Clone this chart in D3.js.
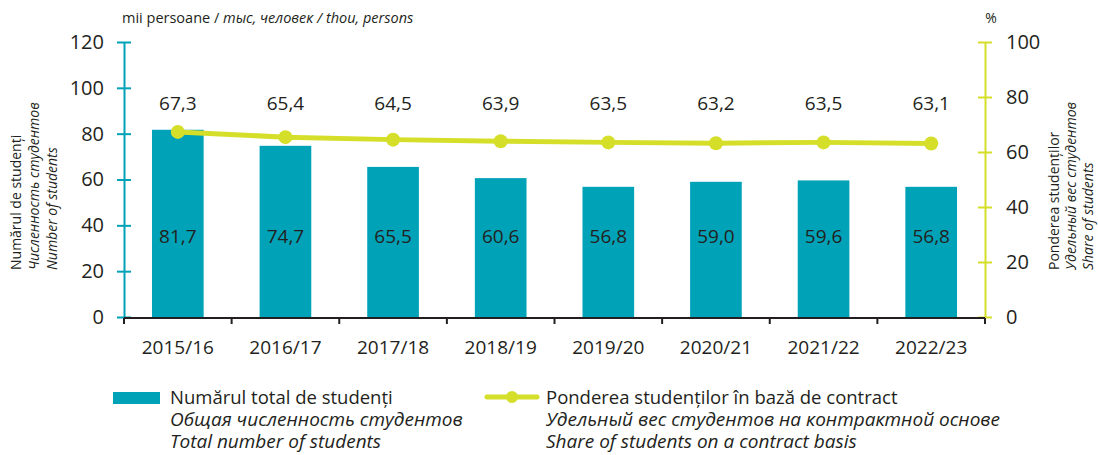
<!DOCTYPE html>
<html>
<head>
<meta charset="utf-8">
<script src="https://cdn.jsdelivr.net/npm/d3@7"></script>
<style>
  body { margin: 0; background: #fff; }
  text { font-family: "Open Sans", "Noto Sans", sans-serif; fill: #231f20; }
</style>
</head>
<body>
<div id="chart"></div>
<script>
// data
var years = ["2015/16", "2016/17", "2017/18", "2018/19", "2019/20", "2020/21", "2021/22", "2022/23"];
var students = [81.7, 74.7, 65.5, 60.6, 56.8, 59.0, 59.6, 56.8];
var contractShare = [67.3, 65.4, 64.5, 63.9, 63.5, 63.2, 63.5, 63.1];
var leftTicks = [0, 20, 40, 60, 80, 100, 120];
var rightTicks = [0, 20, 40, 60, 80, 100];

var w = 1098, h = 455;
var teal = "#00a2b7";
var lime = "#d5df2a";
var fmt = function (v) { return v.toFixed(1).replace(".", ","); };

var svg = d3.select("#chart").append("svg")
    .attr("width", w)
    .attr("height", h);

var x = d3.scaleBand().domain(years).range([124, 985]).paddingInner(0.52).paddingOuter(0.26);
var yL = d3.scaleLinear().domain([0, 120]).range([317, 42]);
var yR = d3.scaleLinear().domain([0, 100]).range([317, 42]);

// bars
svg.selectAll("rect.bar")
    .data(students)
    .enter().append("rect")
    .attr("class", "bar")
    .attr("x", function (d, i) { return x(years[i]); })
    .attr("width", x.bandwidth())
    .attr("y", function (d) { return yL(d); })
    .attr("height", function (d) { return yL(0) - yL(d); })
    .attr("fill", teal);

// bar labels
svg.selectAll("text.barlbl")
    .data(students)
    .enter().append("text")
    .attr("class", "barlbl")
    .attr("x", function (d, i) { return x(years[i]) + x.bandwidth() / 2; })
    .attr("y", 243)
    .attr("text-anchor", "middle")
    .style("font-size", "19px")
    .text(fmt);

// left axis
var left = svg.append("g")
    .attr("transform", "translate(124,0)")
    .call(d3.axisLeft(yL).tickValues(leftTicks).tickSize(0).tickPadding(20));
left.select(".domain").attr("stroke", teal).attr("stroke-width", 2);
left.selectAll(".tick text").style("font-size", "20px").attr("fill", "#231f20");
left.selectAll(".tick").append("line")
    .attr("x1", -7).attr("x2", 7)
    .attr("stroke", teal).attr("stroke-width", 2);

// right axis
var right = svg.append("g")
    .attr("transform", "translate(985,0)")
    .call(d3.axisRight(yR).tickValues(rightTicks).tickSize(0).tickPadding(21));
right.select(".domain").attr("stroke", lime).attr("stroke-width", 2);
right.selectAll(".tick text").style("font-size", "20px").attr("fill", "#231f20");
right.selectAll(".tick").append("line")
    .attr("x1", -7).attr("x2", 7)
    .attr("stroke", lime).attr("stroke-width", 2);

// x axis
var bottom = svg.append("g")
    .attr("transform", "translate(0,318)")
    .call(d3.axisBottom(x).tickSize(0).tickPadding(23));
bottom.select(".domain").remove();
bottom.append("line").attr("x1", 124).attr("x2", 985).attr("stroke", "#231f20").attr("stroke-width", 2);
bottom.selectAll(".tick text").style("font-size", "19px").attr("fill", "#231f20");
bottom.selectAll("line.sep")
    .data(d3.range(years.length + 1))
    .enter().append("line")
    .attr("class", "sep")
    .attr("x1", function (i) { return 124 + i * (861 / years.length); })
    .attr("x2", function (i) { return 124 + i * (861 / years.length); })
    .attr("y1", 0).attr("y2", 6)
    .attr("stroke", "#231f20").attr("stroke-width", 2);

// line
var cx = function (i) { return x(years[i]) + x.bandwidth() / 2; };
var line = d3.line()
    .x(function (d, i) { return cx(i); })
    .y(function (d) { return yR(d); });
svg.append("path")
    .datum(contractShare)
    .attr("d", line)
    .attr("fill", "none")
    .attr("stroke", lime)
    .attr("stroke-width", 5);
svg.selectAll("circle.pt")
    .data(contractShare)
    .enter().append("circle")
    .attr("class", "pt")
    .attr("cx", function (d, i) { return cx(i); })
    .attr("cy", function (d) { return yR(d); })
    .attr("r", 7)
    .attr("fill", lime);
svg.selectAll("text.ptlbl")
    .data(contractShare)
    .enter().append("text")
    .attr("class", "ptlbl")
    .attr("x", function (d, i) { return cx(i); })
    .attr("y", 110)
    .attr("text-anchor", "middle")
    .style("font-size", "19px")
    .text(fmt);

// unit labels
svg.append("text").attr("x", 122).attr("y", 23).style("font-size", "14.5px")
    .html('mii persoane / <tspan font-style="italic">тыс, человек / thou, persons</tspan>');
svg.append("text").attr("x", 991).attr("y", 23).attr("text-anchor", "middle").style("font-size", "14px").text("%");

// rotated axis titles
var leftTitle = ["Numărul de studenți", "Численность студентов", "Number of students"];
var rightTitle = ["Ponderea studenților", "Удельный вес студентов", "Share of students"];
function rotTitle(lines, x0, gap) {
    var g = svg.append("g").attr("transform", "translate(" + x0 + ",270) rotate(-90)");
    g.selectAll("text").data(lines).enter().append("text")
        .attr("x", 0)
        .attr("y", function (d, i) { return i * gap; })
        .style("font-size", "14px")
        .style("font-style", function (d, i) { return i > 0 ? "italic" : "normal"; })
        .text(function (d) { return d; });
}
rotTitle(leftTitle, 21, 18);
rotTitle(rightTitle, 1059, 17);

// legend
var legBars = ["Numărul total de studenți", "Общая численность студентов", "Total number of students"];
var legLine = ["Ponderea studenților în bază de contract", "Удельный вес студентов на контрактной основе", "Share of students on a contract basis"];
svg.append("rect").attr("x", 113).attr("y", 392).attr("width", 47).attr("height", 12).attr("fill", teal);
svg.append("line").attr("x1", 487).attr("x2", 537).attr("y1", 397).attr("y2", 397)
    .attr("stroke", lime).attr("stroke-width", 5).attr("stroke-linecap", "round");
svg.append("circle").attr("cx", 512).attr("cy", 397).attr("r", 6).attr("fill", lime);
function legText(lines, x0) {
    svg.selectAll(null).data(lines).enter().append("text")
        .attr("x", x0)
        .attr("y", function (d, i) { return 404 + i * 22; })
        .style("font-size", function (d, i) { return i > 0 ? "19px" : "18.5px"; })
        .style("font-style", function (d, i) { return i > 0 ? "italic" : "normal"; })
        .text(function (d) { return d; });
}
legText(legBars, 170);
legText(legLine, 546);
</script>
</body>
</html>
